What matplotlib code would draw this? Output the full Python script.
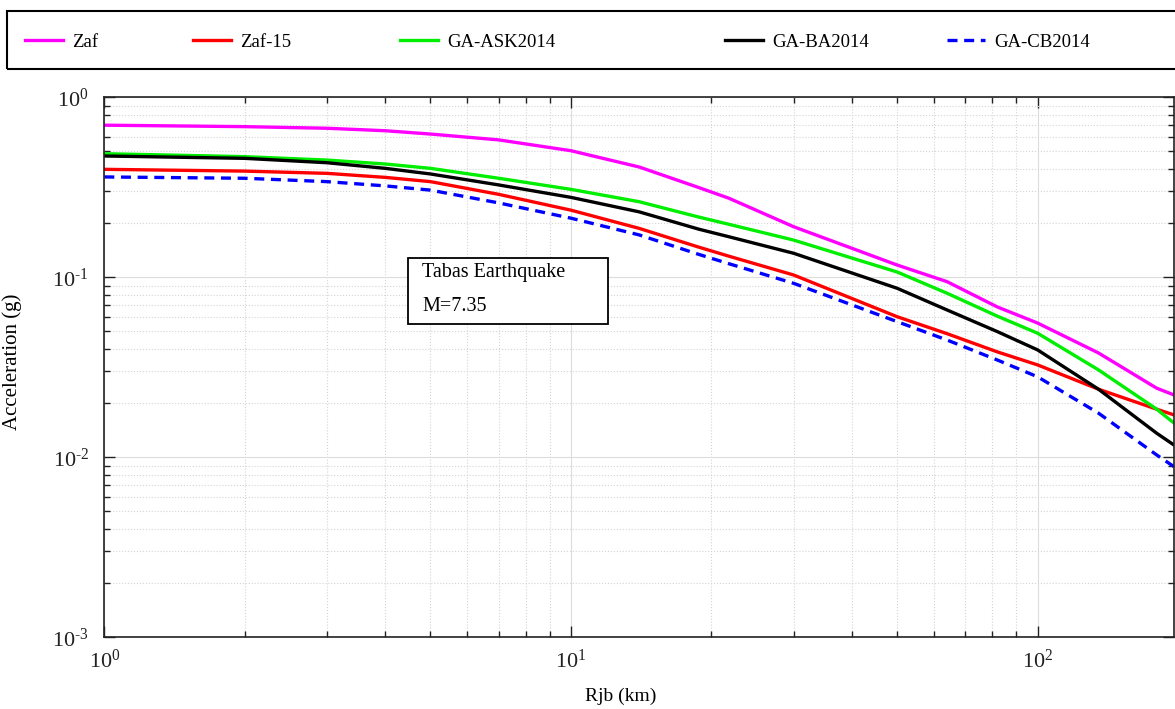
import math

import matplotlib
matplotlib.use("Agg")
import matplotlib.pyplot as plt
from matplotlib.patches import Rectangle
from matplotlib.ticker import LogLocator, NullFormatter, FuncFormatter

plt.rcParams["font.family"] = ["Liberation Serif", "DejaVu Serif"]
plt.rcParams["mathtext.fontset"] = "custom"
plt.rcParams["mathtext.rm"] = "Liberation Serif"
plt.rcParams["mathtext.it"] = "Liberation Serif:italic"

# ── data (Rjb in km, PGA in g) ──
rjb = [1, 2, 3, 4, 5, 7, 10, 14, 18.8, 21.8, 30, 50, 64, 82, 100, 135, 180, 196]

zaf = [0.70, 0.687, 0.673, 0.652, 0.625, 0.58, 0.505, 0.41, 0.315, 0.275, 0.191,
       0.117, 0.0945, 0.0684, 0.0557, 0.038, 0.0242, 0.0222]
zaf15 = [0.398, 0.389, 0.378, 0.359, 0.340, 0.289, 0.236, 0.187, 0.147, 0.131,
         0.103, 0.0604, 0.0486, 0.0385, 0.0326, 0.0239, 0.0185, 0.0172]
ask = [0.486, 0.468, 0.448, 0.426, 0.403, 0.355, 0.308, 0.263, 0.216, 0.197,
       0.161, 0.107, 0.0815, 0.0608, 0.0489, 0.0306, 0.0185, 0.0155]
ba = [0.472, 0.458, 0.433, 0.403, 0.375, 0.326, 0.278, 0.231, 0.185, 0.168,
      0.136, 0.0869, 0.0658, 0.0499, 0.0395, 0.0239, 0.0136, 0.0117]
cb = [0.361, 0.355, 0.340, 0.322, 0.305, 0.259, 0.213, 0.172, 0.134, 0.119,
      0.0926, 0.0567, 0.0448, 0.0347, 0.028, 0.0176, 0.0103, 0.00887]

series = [
    ("Zaf", zaf, "#ff00ff", "-"),
    ("Zaf-15", zaf15, "#ff0000", "-"),
    ("GA-ASK2014", ask, "#00ee00", "-"),
    ("GA-BA2014", ba, "#000000", "-"),
    ("GA-CB2014", cb, "#0000ff", (0, (3.0, 2.0))),
]
legend_x = [25, 193, 400, 725, 947]  # px where each legend sample starts

W, H = 1175, 709
fig = plt.figure(figsize=(W / 100, H / 100), dpi=100, facecolor="white")
ax = fig.add_axes([104.3 / W, 1 - 637.3 / H, 1069.7 / W, 540 / H])

handles = []
for name, vals, col, ls in series:
    ln, = ax.plot(rjb, vals, color=col, linestyle=ls, linewidth=2.4, label=name)
    handles.append(ln)

ax.set_xscale("log")
ax.set_yscale("log")
ax.set_xlim(1, 196)
ax.set_ylim(1e-3, 1)


def pow10(v, _pos):
    e = int(round(math.log10(v)))
    if e < 0:
        return r"$10^{\text{-}%d}$" % (-e)
    return r"$10^{%d}$" % e


ax.xaxis.set_major_formatter(FuncFormatter(pow10))
ax.yaxis.set_major_formatter(FuncFormatter(pow10))
ax.xaxis.set_minor_locator(LogLocator(base=10, subs=range(2, 10), numticks=20))
ax.yaxis.set_minor_locator(LogLocator(base=10, subs=range(2, 10), numticks=20))
ax.xaxis.set_minor_formatter(NullFormatter())
ax.yaxis.set_minor_formatter(NullFormatter())

ax.grid(which="major", color="#dcdcdc", linewidth=0.8, linestyle="-")
ax.grid(which="minor", color="#d4d4d4", linewidth=0.8, linestyle=":")
ax.set_axisbelow(True)

ax.tick_params(which="both", direction="in", top=True, right=True, colors="#222222")
ax.tick_params(which="major", length=8, width=1.0, labelsize=16)
ax.tick_params(axis="y", which="major", pad=11)
ax.tick_params(axis="x", which="major", pad=9)
ax.tick_params(which="minor", length=4.5, width=1.0)
for sp in ax.spines.values():
    sp.set_linewidth(1.2)
    sp.set_color("#222222")

ax.set_xlabel("Rjb (km)", fontsize=14)
ax.set_ylabel("Acceleration (g)", fontsize=15)
ax.xaxis.set_label_coords(0.483, -0.094)
ax.yaxis.set_label_coords(-0.077, 0.511)

# ── event annotation box ──
ax.add_patch(Rectangle((0.284, 0.580), 0.187, 0.122, transform=ax.transAxes,
                       facecolor="white", edgecolor="black", linewidth=1.3, zorder=6))
ax.text(0.297, 0.676, "Tabas Earthquake", transform=ax.transAxes,
        fontsize=14.5, va="center", ha="left", zorder=7)
ax.text(0.297, 0.612, "M=7.35", transform=ax.transAxes,
        fontsize=14.5, va="center", ha="left", zorder=7)

# ── legend strip across the top ──
fig.add_artist(Rectangle((7 / W, 1 - 69 / H), 1.0, 58 / H, transform=fig.transFigure,
                         fill=False, edgecolor="black", linewidth=1.5))
for h, xp in zip(handles, legend_x):
    fig.legend(handles=[h], loc="center left", bbox_to_anchor=(xp / W, 1 - 42 / H),
               frameon=False, fontsize=13.5, borderpad=0, borderaxespad=0,
               handlelength=2.05, handletextpad=0.45)

fig.savefig("out.png", dpi=100, facecolor="white")
